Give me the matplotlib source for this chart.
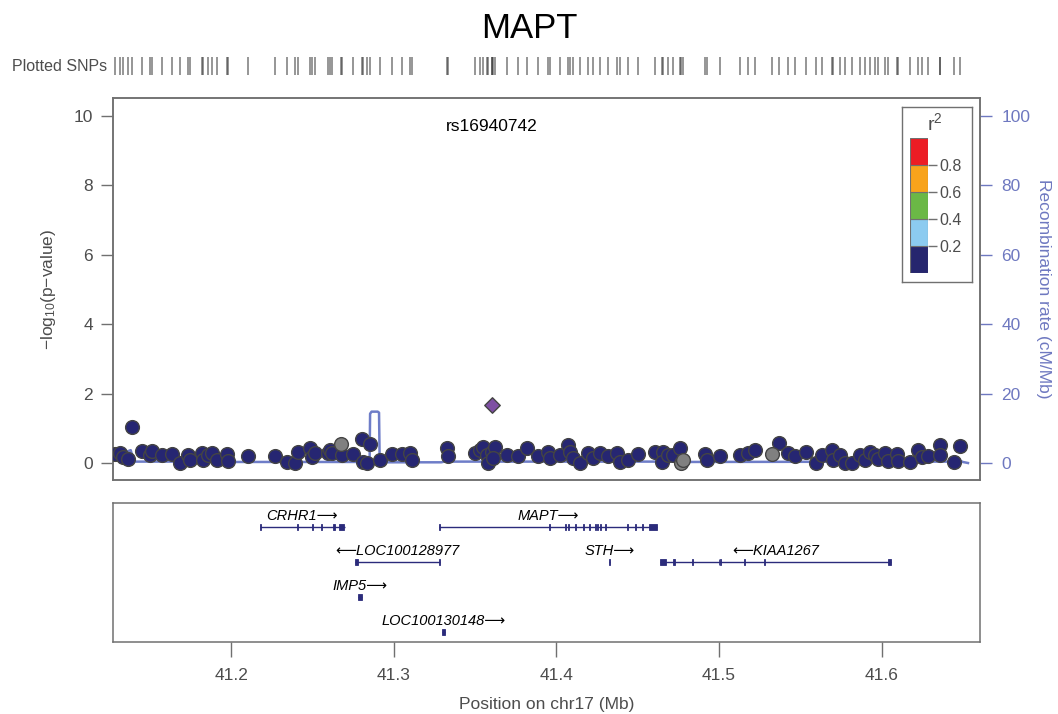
import matplotlib
matplotlib.use("Agg")
import matplotlib.pyplot as plt
from matplotlib.patches import Rectangle

plt.rcParams['font.family'] = ['Liberation Sans', 'DejaVu Sans']
plt.rcParams['mathtext.default'] = 'regular'

TITLE = "MAPT"
LEAD_SNP = "rs16940742"
lead_pos = 41.3601
lead_logp = 1.67

# SNPs with r2 < 0.2 to the lead SNP
snp_pos = [41.1283, 41.1314, 41.1334, 41.1365, 41.1386, 41.1447, 41.1498, 41.1509, 41.1570, 41.1632,
           41.1683, 41.1734, 41.1745, 41.1817, 41.1827, 41.1857, 41.1878, 41.1909, 41.1970, 41.1980,
           41.2103, 41.2268, 41.2340, 41.2391, 41.2411, 41.2483, 41.2494, 41.2514, 41.2596, 41.2606,
           41.2617, 41.2678, 41.2750, 41.2805, 41.2852, 41.2811, 41.2832, 41.2914, 41.2986, 41.3047,
           41.3098, 41.3109, 41.3324, 41.3334, 41.3498, 41.3529, 41.3550, 41.3570, 41.3580, 41.3601,
           41.3622, 41.3611, 41.3694, 41.3765, 41.3817, 41.3888, 41.3950, 41.3960, 41.4022, 41.4073,
           41.4083, 41.4103, 41.4145, 41.4196, 41.4227, 41.4268, 41.4319, 41.4370, 41.4391, 41.4442,
           41.4503, 41.4606, 41.4657, 41.4647, 41.4688, 41.4719, 41.4760, 41.4914, 41.4924, 41.5006,
           41.5129, 41.5180, 41.5222, 41.5369, 41.5426, 41.5468, 41.5533, 41.5595, 41.5632, 41.5694,
           41.5703, 41.5745, 41.5775, 41.5817, 41.5868, 41.5898, 41.5929, 41.5960, 41.5981, 41.6022,
           41.6042, 41.6094, 41.6104, 41.6175, 41.6227, 41.6247, 41.6288, 41.6360, 41.6362, 41.6448,
           41.6483]
snp_logp = [0.26, 0.30, 0.18, 0.11, 1.05, 0.35, 0.23, 0.35, 0.23, 0.26,
            0.01, 0.23, 0.09, 0.30, 0.09, 0.23, 0.30, 0.09, 0.26, 0.07,
            0.21, 0.21, 0.04, 0.01, 0.31, 0.42, 0.18, 0.30, 0.30, 0.37,
            0.28, 0.23, 0.26, 0.68, 0.55, 0.04, 0.01, 0.09, 0.26, 0.26,
            0.28, 0.09, 0.42, 0.20, 0.28, 0.37, 0.47, 0.23, 0.01, 0.33,
            0.47, 0.14, 0.23, 0.20, 0.42, 0.20, 0.33, 0.14, 0.23, 0.52,
            0.33, 0.14, 0.01, 0.28, 0.14, 0.28, 0.20, 0.28, 0.04, 0.09,
            0.26, 0.33, 0.33, 0.04, 0.23, 0.23, 0.42, 0.26, 0.09, 0.20,
            0.23, 0.30, 0.37, 0.59, 0.28, 0.20, 0.33, 0.00, 0.23, 0.37,
            0.09, 0.23, 0.01, 0.01, 0.23, 0.09, 0.33, 0.23, 0.11, 0.28,
            0.07, 0.26, 0.07, 0.04, 0.37, 0.18, 0.20, 0.52, 0.23, 0.04,
            0.49]

# SNPs without LD information
na_pos = [41.2674, 41.4764, 41.4777, 41.5328]
na_logp = [0.55, 0.01, 0.09, 0.26]

recomb_pos = [41.1271, 41.1340, 41.1380, 41.1400, 41.1680, 41.1700, 41.2850, 41.2853, 41.2862,
              41.2900, 41.2908, 41.2912, 41.3290, 41.3310, 41.4760, 41.4780, 41.4800, 41.6430,
              41.6470, 41.6500, 41.6532]
recomb_rate = [1.0, 3.0, 3.7, 0.4, 0.4, 0.3, 0.3, 14.2, 14.8, 14.8, 14.5, 0.2, 0.2, 0.4,
               0.4, 0.9, 0.3, 0.4, 1.0, 0.3, 0.0]

gene_names = ["CRHR1", "MAPT", "LOC100128977", "STH", "KIAA1267", "IMP5", "LOC100130148"]
gene_start = [41.2175, 41.3279, 41.2760, 41.4322, 41.4637, 41.2780, 41.3294]
gene_end = [41.2698, 41.4620, 41.3283, 41.4330, 41.6057, 41.2801, 41.3314]
gene_row = [0, 0, 1, 1, 1, 2, 3]
gene_strand = ["+", "+", "-", "+", "-", "+", "+"]
gene_exons = [
    [(41.2175, 41.2182), (41.2401, 41.2408), (41.2497, 41.2504), (41.2549, 41.2556),
     (41.2623, 41.2640), (41.2660, 41.2694)],
    [(41.3279, 41.3285), (41.3956, 41.3962), (41.4052, 41.4058), (41.4073, 41.4079),
     (41.4114, 41.4120), (41.4165, 41.4171), (41.4202, 41.4208), (41.4237, 41.4243),
     (41.4251, 41.4257), (41.4268, 41.4274), (41.4298, 41.4304), (41.4436, 41.4442),
     (41.4483, 41.4489), (41.4524, 41.4530), (41.4571, 41.4620)],
    [(41.2760, 41.2777), (41.3277, 41.3283)],
    [(41.4322, 41.4330)],
    [(41.4637, 41.4674), (41.4715, 41.4731), (41.4835, 41.4841), (41.4997, 41.5003),
     (41.5006, 41.5012), (41.5153, 41.5159), (41.5276, 41.5282), (41.6042, 41.6057)],
    [(41.2780, 41.2801)],
    [(41.3294, 41.3314)],
]

r2_edges = [0.0, 0.2, 0.4, 0.6, 0.8, 1.0]
r2_colors = ["#26266E", "#8CCBF0", "#6BB846", "#F8A31B", "#EC1C24"]
x_ticks = [41.2, 41.3, 41.4, 41.5, 41.6]

NAVY = "#262672"
GENE_COL = "#2B2B7B"
RECOMB_COL = "#6E7DC8"
RIGHT_COL = "#6E78C0"
TXT = "#4D4D4D"
SPINE = "#707070"

W, H = 1058, 714
fig = plt.figure(figsize=(W / 100, H / 100), dpi=100)


def px_axes(x0, y0, x1, y1):
    return fig.add_axes([x0 / W, 1 - y1 / H, (x1 - x0) / W, (y1 - y0) / H])


XLIM = (41.1271, 41.6606)

# main association panel
ax = px_axes(113, 98, 980, 480)
ax2 = ax.twinx()
ax.set_zorder(ax2.get_zorder() + 1)
ax.patch.set_visible(False)

ax2.plot(recomb_pos, recomb_rate, color=RECOMB_COL, lw=1.8, zorder=1)
ax.scatter(snp_pos, snp_logp, s=98, c=NAVY, edgecolors="#444444", linewidths=1.0, zorder=3)
ax.scatter(na_pos, na_logp, s=98, c="#808080", edgecolors="#444444", linewidths=1.0, zorder=3)
ax.scatter([lead_pos], [lead_logp], s=62, marker="D", c="#7E4FA3", edgecolors="#444444",
           linewidths=1.0, zorder=4)
ax.text(lead_pos, 9.7, LEAD_SNP, ha="center", va="center", fontsize=12.5, color="black")

ax.set_xlim(*XLIM)
ax.set_ylim(-0.49, 10.52)
ax2.set_ylim(-4.9, 105.2)
ax.set_xticks([])
ax.set_yticks([0, 2, 4, 6, 8, 10])
ax2.set_yticks([0, 20, 40, 60, 80, 100])
ax.tick_params(axis="y", length=8.5, width=1, color=SPINE, labelsize=12.5, labelcolor=TXT, pad=6)
ax2.tick_params(axis="y", length=8.5, width=1, color=RIGHT_COL, labelsize=12.5,
                labelcolor=RIGHT_COL, pad=7)
ax.set_ylabel(r"$-$log$_{10}$(p$-$value)", fontsize=12.5, color=TXT, labelpad=11)
ax2.set_ylabel("Recombination rate (cM/Mb)", fontsize=12.5, color=RIGHT_COL, rotation=270,
               labelpad=15)
for a in (ax, ax2):
    for sp in a.spines.values():
        sp.set_color(SPINE)
        sp.set_linewidth(1.1)

# rug of plotted SNPs
rug = px_axes(113, 57.4, 980, 75.4)
all_pos = snp_pos + na_pos + [lead_pos]
rug.vlines(all_pos, 0, 1, color="#333333", alpha=0.6, lw=1.2)
rug.set_xlim(*XLIM)
rug.set_ylim(0, 1)
rug.axis("off")
fig.text(107 / W, 1 - 66.4 / H, "Plotted SNPs", ha="right", va="center", fontsize=11.5, color=TXT)

fig.text(0.5, 1 - 28 / H, TITLE, ha="center", va="center", fontsize=25, color="black")

# gene panel
gax = px_axes(113, 503.3, 980, 641.7)
for name, st, en, row, strand, exons in zip(gene_names, gene_start, gene_end, gene_row,
                                             gene_strand, gene_exons):
    gax.plot([st, en], [row, row], color=GENE_COL, lw=1.0, solid_capstyle="butt")
    for e0, e1 in exons:
        gax.add_patch(Rectangle((e0, row - 0.085), e1 - e0, 0.17, facecolor=GENE_COL,
                                edgecolor=GENE_COL, lw=0.6))
    # long arrow glyph comes from DejaVu Sans via the font fallback list
    label = name + "\u27F6" if strand == "+" else "\u27F5" + name
    gax.text((st + en) / 2, row - 0.31, label, ha="center", va="center", fontsize=10.5,
             style="italic", color="black")
gax.set_xlim(*XLIM)
gax.set_ylim(3.27, -0.686)
gax.set_yticks([])
gax.set_xticks(x_ticks)
gax.set_xticklabels([f"{t:.1f}" for t in x_ticks])
gax.tick_params(axis="x", length=11, width=1, color=SPINE, labelsize=12.5, labelcolor=TXT, pad=8)
gax.set_xlabel("Position on chr17 (Mb)", fontsize=12.5, color=TXT, labelpad=10)
for sp in gax.spines.values():
    sp.set_color(SPINE)
    sp.set_linewidth(1.1)

# r2 legend
lframe = px_axes(901.7, 107.3, 972.3, 281.7)
lframe.set_xticks([])
lframe.set_yticks([])
for sp in lframe.spines.values():
    sp.set_color(SPINE)
    sp.set_linewidth(1.0)
lframe.set_zorder(5)

cax = px_axes(910, 138.3, 927.7, 272.7)
cax.set_zorder(6)
for i, col in enumerate(r2_colors):
    cax.bar(0.5, r2_edges[i + 1] - r2_edges[i], bottom=r2_edges[i], width=1.0, color=col,
            edgecolor=SPINE, lw=0.8)
cax.set_xlim(0, 1)
cax.set_ylim(0, 1)
cax.set_xticks([])
cax.yaxis.tick_right()
cax.set_yticks(r2_edges[1:-1])
cax.set_yticklabels([f"{v:.1f}" for v in r2_edges[1:-1]])
cax.tick_params(axis="y", length=6.5, width=1, color=SPINE, labelsize=11.5, labelcolor=TXT, pad=2)
for sp in cax.spines.values():
    sp.set_visible(False)
fig.text(935 / W, 1 - 123 / H, r"r$^2$", ha="center", va="center", fontsize=14, color=TXT,
         zorder=7)

fig.savefig("out.png", dpi=100)
